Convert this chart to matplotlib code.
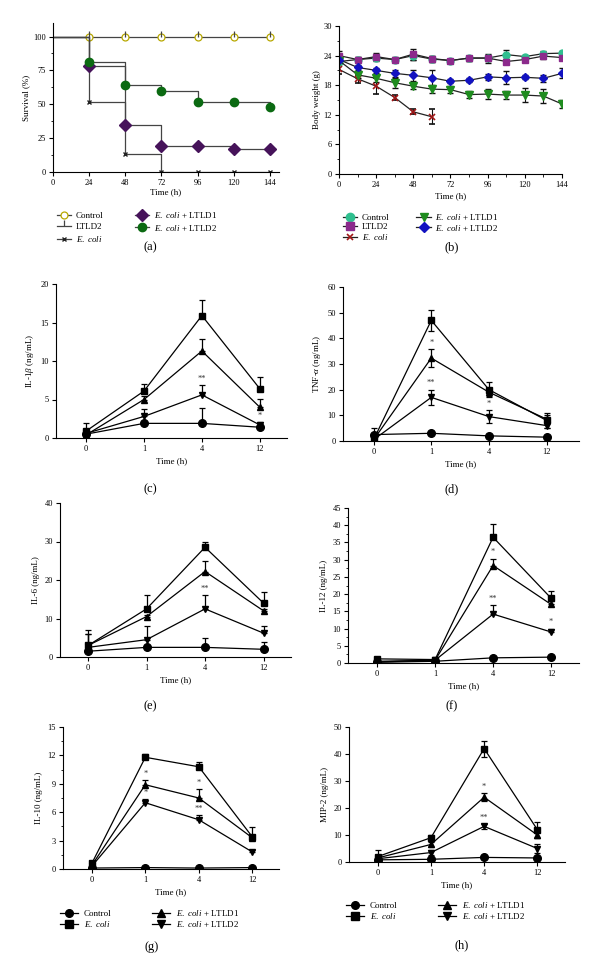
import numpy as np
import matplotlib
matplotlib.use("Agg")
import matplotlib.pyplot as plt
from matplotlib.lines import Line2D
from matplotlib.ticker import MultipleLocator

plt.rcParams['font.family'] = ['Liberation Serif', 'DejaVu Serif']
plt.rcParams['mathtext.fontset'] = 'custom'
plt.rcParams['mathtext.it'] = 'Liberation Serif:italic'
plt.rcParams['mathtext.rm'] = 'Liberation Serif'
plt.rcParams['axes.linewidth'] = 0.8
plt.rcParams['xtick.major.size'] = 3
plt.rcParams['ytick.major.size'] = 3
plt.rcParams['xtick.minor.size'] = 1.8
plt.rcParams['ytick.minor.size'] = 1.8
plt.rcParams['xtick.labelsize'] = 6
plt.rcParams['ytick.labelsize'] = 6

ECOLI = r'$\mathit{E.\ coli}$'

# ---- (a) survival ----
surv_t = [0, 24, 48, 72, 96, 120, 144]
surv_control = [100, 100, 100, 100, 100, 100, 100]
surv_ltld2 = [100, 100, 100, 100, 100, 100, 100]
surv_ecoli = [100, 52, 13, 0, 0, 0, 0]
surv_ecoli_l1 = [100, 78, 35, 19, 19, 17, 17]
surv_ecoli_l2 = [100, 81, 64, 60, 52, 52, 48]

# ---- (b) body weight ----
bw_t = [0, 12, 24, 36, 48, 60, 72, 84, 96, 108, 120, 132, 144]
bw_control = [22.8, 23.2, 23.5, 23.2, 24.0, 23.3, 23.0, 23.5, 23.5, 24.2, 23.8, 24.4, 24.5]
bw_control_err = [0.6, 0.5, 0.6, 0.5, 0.8, 0.6, 0.4, 0.5, 0.6, 0.9, 0.4, 0.5, 0.5]
bw_ltld2 = [24.0, 23.2, 23.8, 23.2, 24.3, 23.4, 23.0, 23.5, 23.5, 22.8, 23.2, 23.9, 23.6]
bw_ltld2_err = [0.9, 0.5, 0.7, 0.4, 1.1, 0.6, 0.4, 0.5, 0.9, 0.5, 0.4, 0.6, 0.4]
bw_ecoli = [21.2, 19.3, 17.8, 15.5, 12.6, 11.6]
bw_ecoli_err = [1.0, 0.8, 1.6, 0.6, 0.5, 1.5]
bw_ecoli_l1 = [23.0, 20.1, 19.4, 18.5, 17.8, 17.2, 17.1, 16.1, 16.2, 16.0, 16.0, 15.8, 14.2]
bw_ecoli_l1_err = [0.5, 0.6, 0.8, 1.0, 0.5, 0.8, 0.7, 0.7, 1.0, 0.8, 1.4, 1.5, 0.8]
bw_ecoli_l2 = [23.2, 21.6, 21.0, 20.4, 20.0, 19.5, 18.8, 19.0, 19.7, 19.5, 19.6, 19.4, 20.4]
bw_ecoli_l2_err = [0.5, 0.5, 0.5, 0.7, 1.1, 1.6, 0.4, 0.4, 0.6, 1.3, 0.4, 0.7, 1.0]

# ---- (c)-(h) cytokines: rows = Control, E. coli, E. coli+LTLD1, E. coli+LTLD2 ----
cyto_times = ['0', '1', '4', '12']
groups = ['Control', ECOLI, ECOLI + ' + LTLD1', ECOLI + ' + LTLD2']

il1b_mean = [[0.5, 1.9, 1.9, 1.4], [0.9, 6.1, 15.9, 6.4], [0.4, 5.0, 11.3, 4.0], [0.6, 2.8, 5.6, 1.7]]
il1b_err = [[0.3, 0.3, 2.0, 0.3], [1.0, 0.9, 2.0, 1.5], [0.3, 0.4, 1.6, 1.1], [0.3, 1.0, 1.3, 0.4]]
il1b_stars = [(3, 2, '**'), (3, 3, '*')]

tnf_mean = [[2.5, 3.0, 2.0, 1.5], [0.5, 47.0, 20.0, 8.0], [0.5, 32.3, 19.0, 8.5], [0.5, 17.0, 9.5, 6.0]]
tnf_err = [[2.5, 0.5, 0.5, 0.5], [1.0, 4.0, 3.0, 3.0], [0.5, 3.5, 1.5, 1.5], [0.5, 3.0, 2.5, 1.0]]
tnf_stars = [(2, 1, '*'), (3, 1, '**'), (3, 2, '*')]

il6_mean = [[1.5, 2.5, 2.5, 2.0], [3.0, 12.5, 28.5, 14.0], [3.0, 10.5, 22.2, 12.0], [2.5, 4.5, 12.5, 6.2]]
il6_err = [[0.5, 0.5, 2.5, 2.0], [4.0, 3.5, 1.5, 3.0], [3.0, 0.5, 2.8, 0.5], [3.5, 3.5, 3.5, 1.8]]
il6_stars = [(3, 2, '**')]

il12_mean = [[0.2, 0.5, 1.5, 1.7], [1.2, 1.0, 36.5, 18.8], [0.5, 0.8, 28.3, 17.0], [0.3, 0.8, 14.2, 9.0]]
il12_err = [[0.2, 0.2, 0.3, 0.3], [0.3, 0.3, 4.0, 2.0], [0.2, 0.2, 2.0, 1.0], [0.2, 0.2, 2.5, 1.0]]
il12_stars = [(2, 2, '*'), (3, 2, '**'), (3, 3, '*')]

il10_mean = [[0.1, 0.15, 0.1, 0.15], [0.6, 11.8, 10.8, 3.4], [0.4, 8.9, 7.5, 3.3], [0.3, 7.0, 5.2, 1.8]]
il10_err = [[0.05, 0.05, 0.05, 0.05], [0.2, 0.4, 0.5, 1.0], [0.2, 0.5, 1.0, 0.3], [0.2, 0.4, 0.5, 0.2]]
il10_stars = [(2, 1, '*'), (3, 1, '*'), (2, 2, '*'), (3, 2, '**')]

mip2_mean = [[0.8, 1.0, 1.7, 1.5], [2.0, 9.0, 42.0, 12.0], [1.5, 6.5, 24.0, 10.0], [1.2, 3.5, 13.2, 5.0]]
mip2_err = [[0.3, 0.3, 0.4, 0.4], [2.5, 1.0, 3.0, 3.0], [0.5, 0.8, 1.5, 1.0], [0.5, 1.0, 1.0, 1.5]]
mip2_stars = [(2, 2, '*'), (3, 2, '**')]

W, H = 600, 975
fig = plt.figure(figsize=(6, 9.75), dpi=100)


def px_rect(l, t, r, b):
    return [l / W, 1 - b / H, (r - l) / W, (b - t) / H]


def style(ax):
    for s in ['top', 'right']:
        ax.spines[s].set_visible(False)
    ax.tick_params(width=0.8, pad=2)


def panel_label(x, y, s):
    fig.text(x / W, 1 - y / H, s, ha='center', va='center', fontsize=9)


def handle(marker, fc, ec=None, ms=5, lc='#333333', mew=1.0):
    return Line2D([], [], color=lc, lw=0.9, marker=marker, mfc=fc, mec=ec or fc, ms=ms, mew=mew)


# (a)
ax = fig.add_axes(px_rect(53, 23, 279, 172))
style(ax)
line_c = '#444444'
ax.step(surv_t, surv_control, where='post', color=line_c, lw=0.9)
ax.plot(surv_t[1:], surv_control[1:], 'o', mfc='white', mec='#b8a800', ms=5, mew=0.9)
ax.plot(surv_t[1:], surv_ltld2[1:], ls='none', marker=2, color=line_c, ms=4, mew=0.9)
ax.step(surv_t, surv_ecoli, where='post', color=line_c, lw=0.9)
ax.plot(surv_t[1:], surv_ecoli[1:], 'x', color='#222222', ms=3.5, mew=1.0)
ax.step(surv_t, surv_ecoli_l1, where='post', color=line_c, lw=0.9)
ax.plot(surv_t[1:], surv_ecoli_l1[1:], 'D', color='#46135a', ms=6)
ax.step(surv_t, surv_ecoli_l2, where='post', color=line_c, lw=0.9)
ax.plot(surv_t[1:], surv_ecoli_l2[1:], 'o', color='#0b6a12', ms=6)
h_a = [handle('o', 'white', '#b8a800', 5, line_c, 0.9),
       handle(2, line_c, line_c, 4, line_c, 0.9),
       handle('x', '#222222', '#222222', 3.5, line_c),
       handle('D', '#46135a', ms=6, lc=line_c),
       handle('o', '#0b6a12', ms=6, lc=line_c)]
l_a = ['Control', 'LTLD2', ECOLI, ECOLI + ' + LTLD1', ECOLI + ' + LTLD2']
ax.set_xlim(0, 150)
ax.set_ylim(0, 110)
ax.set_xticks(surv_t)
ax.set_yticks([0, 25, 50, 75, 100])
ax.yaxis.set_minor_locator(MultipleLocator(12.5))
ax.set_xlabel('Time (h)', fontsize=6.5, labelpad=1)
ax.set_ylabel('Survival (%)', fontsize=6.5, labelpad=2)
ax.legend(h_a, l_a, ncol=2, loc='upper left', bbox_to_anchor=(-0.02, -0.2), frameon=False,
          fontsize=6.5, handlelength=1.6, handletextpad=0.5, labelspacing=0.3, columnspacing=3.5)
panel_label(150, 247, '(a)')

# (b)
ax = fig.add_axes(px_rect(339, 26, 562, 174))
style(ax)
eb = dict(lw=0.9, capsize=2, elinewidth=0.8, ecolor='#111111', color='#222222')
n_ec = len(bw_ecoli)
ax.errorbar(bw_t, bw_control, yerr=bw_control_err, marker='o', mfc='#2fbf8f', mec='#2fbf8f', ms=5, **eb)
ax.errorbar(bw_t, bw_ltld2, yerr=bw_ltld2_err, marker='s', mfc='#8c2a8c', mec='#8c2a8c', ms=5, **eb)
ax.errorbar(bw_t[:n_ec], bw_ecoli, yerr=bw_ecoli_err, marker='x', mec='#a01818', ms=4, mew=1.2, **eb)
ax.errorbar(bw_t, bw_ecoli_l1, yerr=bw_ecoli_l1_err, marker='v', mfc='#1f8c1f', mec='#1f8c1f', ms=5.5, **eb)
ax.errorbar(bw_t, bw_ecoli_l2, yerr=bw_ecoli_l2_err, marker='D', mfc='#1212c0', mec='#1212c0', ms=4.5, **eb)
h_b = [handle('o', '#2fbf8f', ms=6, lc='#222222'),
       handle('s', '#8c2a8c', ms=6, lc='#222222'),
       handle('x', '#a01818', ms=4, lc='#222222', mew=1.2),
       handle('v', '#1f8c1f', ms=6, lc='#222222'),
       handle('D', '#1212c0', ms=5, lc='#222222')]
ax.set_xlim(0, 144)
ax.set_ylim(0, 30)
ax.set_xticks(range(0, 145, 24))
ax.xaxis.set_minor_locator(MultipleLocator(12))
ax.set_yticks(range(0, 31, 6))
ax.yaxis.set_minor_locator(MultipleLocator(3))
ax.set_xlabel('Time (h)', fontsize=6.5, labelpad=2)
ax.set_ylabel('Body weight (g)', fontsize=6.5, labelpad=2)
ax.legend(h_b, l_a, ncol=2, loc='upper left', bbox_to_anchor=(-0.02, -0.2), frameon=False,
          fontsize=6.5, handlelength=1.6, handletextpad=0.5, labelspacing=0.1, columnspacing=3.0)
panel_label(452, 247, '(b)')

markers = ['o', 's', '^', 'v']


def cyto_panel(rect, xlim, means, errs, stars, ylim, ystep, ylabel, both=False, minor=None, legend=False):
    ax = fig.add_axes(rect)
    style(ax)
    x = np.arange(len(cyto_times))
    for g in range(4):
        err = np.array(errs[g])
        yerr = [err if both else np.zeros_like(err), err]
        ax.errorbar(x, means[g], yerr=yerr, marker=markers[g], color='black', ms=5 if g else 5.5,
                    lw=0.9, capsize=2.2, elinewidth=0.9, capthick=0.9)
    span = ylim[1] - ylim[0]
    for g, t, s in stars:
        ax.text(t, means[g][t] + errs[g][t] + 0.015 * span, s, ha='center', va='bottom', fontsize=6, color='#333333')
    ax.set_xticks(x)
    ax.set_xticklabels(cyto_times)
    ax.set_xlim(*xlim)
    ax.set_ylim(*ylim)
    ax.set_yticks(np.arange(ylim[0], ylim[1] + 0.01, ystep))
    if minor:
        ax.yaxis.set_minor_locator(MultipleLocator(minor))
    ax.set_xlabel('Time (h)', fontsize=6.5, labelpad=3)
    ax.set_ylabel(ylabel, fontsize=6.5, labelpad=3)
    if legend:
        hs = [handle(m, 'black', ms=5.5, lc='black') for m in markers]
        ax.legend(hs, groups, ncol=2, loc='upper left', bbox_to_anchor=(-0.05, -0.22), frameon=False,
                  fontsize=6.5, handlelength=2.0, handletextpad=0.6, labelspacing=0.1, columnspacing=4.5)
    return ax


cyto_panel(px_rect(56, 284, 287, 438), (-0.52, 3.47), il1b_mean, il1b_err, il1b_stars,
           (0, 20), 5, r'IL-1$\mathit{\beta}$ (ng/mL)')
panel_label(150, 489, '(c)')

cyto_panel(px_rect(343, 287, 579, 441), (-0.53, 3.56), tnf_mean, tnf_err, tnf_stars,
           (0, 60), 10, r'TNF-$\mathit{\alpha}$ (ng/mL)', both=True)
panel_label(452, 489, '(d)')

cyto_panel(px_rect(60, 503, 291, 657), (-0.48, 3.47), il6_mean, il6_err, il6_stars,
           (0, 40), 10, 'IL-6 (ng/mL)')
panel_label(150, 706, '(e)')

cyto_panel(px_rect(348, 508, 579, 663), (-0.5, 3.48), il12_mean, il12_err, il12_stars,
           (0, 45), 5, 'IL-12 (ng/mL)', minor=2.5)
panel_label(452, 706, '(f)')

cyto_panel(px_rect(63, 727, 279, 869), (-0.54, 3.5), il10_mean, il10_err, il10_stars,
           (0, 15), 3, 'IL-10 (ng/mL)', minor=1.5, legend=True)
panel_label(152, 947, '(g)')

cyto_panel(px_rect(349, 727, 565, 862), (-0.54, 3.52), mip2_mean, mip2_err, mip2_stars,
           (0, 50), 10, 'MIP-2 (ng/mL)', both=True, legend=True)
panel_label(462, 945, '(h)')

fig.savefig('out.png', dpi=100)
